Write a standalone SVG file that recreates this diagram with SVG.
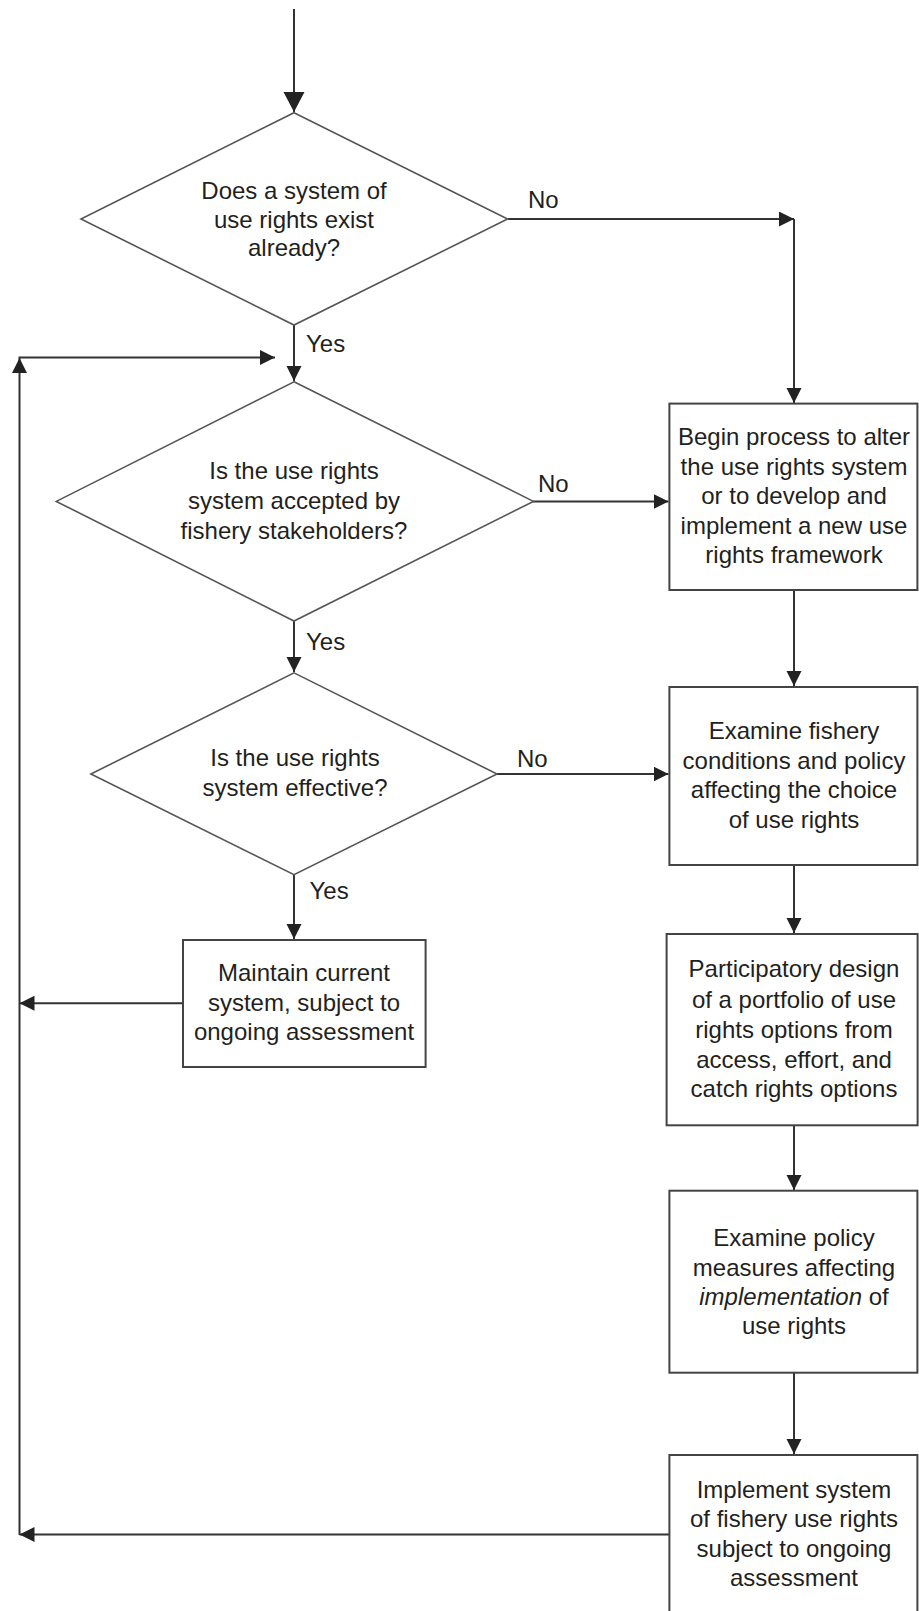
<svg xmlns="http://www.w3.org/2000/svg" width="919" height="1611" viewBox="0 0 919 1611">
<style>
text{font-family:"Liberation Sans",Arial,sans-serif;font-size:24px;fill:#231f20}
.c{text-anchor:middle}
.box{fill:#fff;stroke:#444;stroke-width:2}
.dia{fill:#fff;stroke:#555;stroke-width:1.6}
.ln{fill:none;stroke:#333;stroke-width:2;marker-end:url(#ah)}
.lb{fill:none;stroke:#333;stroke-width:2;marker-end:url(#ahb)}
</style>
<defs>
<marker id="ah" markerUnits="userSpaceOnUse" markerWidth="16" markerHeight="16" refX="15" refY="7.5" orient="auto"><path d="M0,0 L15,7.5 L0,15 z" fill="#222"/></marker>
<marker id="ahb" markerUnits="userSpaceOnUse" markerWidth="22" markerHeight="22" refX="20" refY="10.5" orient="auto"><path d="M0,0 L20,10.5 L0,21 z" fill="#222"/></marker>
</defs>
<g id="connectors">
<path class="lb" d="M294,9 L294,112"/>
<path class="ln" d="M508,219 L794,219"/>
<path class="ln" d="M794,219 L794,403"/>
<path class="ln" d="M294,325 L294,381"/>
<path class="ln" d="M19.5,1535 L19.5,358"/>
<path class="ln" d="M18.5,357.5 L275,357.5"/>
<path class="ln" d="M533,501.4 L668.5,501.4"/>
<path class="ln" d="M794,590 L794,686"/>
<path class="ln" d="M294,621 L294,672"/>
<path class="ln" d="M497,774 L668.5,774"/>
<path class="ln" d="M794,865 L794,933"/>
<path class="ln" d="M294,874.5 L294,939"/>
<path class="ln" d="M183,1003.3 L19.5,1003.3"/>
<path class="ln" d="M794,1125.3 L794,1190"/>
<path class="ln" d="M794,1372.7 L794,1454"/>
<path class="ln" d="M669.4,1534.5 L19.5,1534.5"/>
<text x="528" y="207.5">No</text>
<text x="306" y="351.5">Yes</text>
<text x="538" y="492">No</text>
<text x="306" y="649.5">Yes</text>
<text x="517" y="766.5">No</text>
<text x="309.5" y="899">Yes</text>
</g>
<g id="d1">
<polygon class="dia" points="294,112.7 507.6,219 294,325 81,219"/>
<text class="c"><tspan x="294" y="199">Does a system of</tspan><tspan x="294" y="227.5">use rights exist</tspan><tspan x="294" y="256">already?</tspan></text>
</g>
<g id="d2">
<polygon class="dia" points="294,381.8 533.4,501.4 294,621 56.3,501.4"/>
<text class="c"><tspan x="294" y="479">Is the use rights</tspan><tspan x="294" y="509">system accepted by</tspan><tspan x="294" y="539">fishery stakeholders?</tspan></text>
</g>
<g id="d3">
<polygon class="dia" points="294,672.9 497,774 294,874.6 90.9,774"/>
<text class="c"><tspan x="295" y="766">Is the use rights</tspan><tspan x="295" y="795.5">system effective?</tspan></text>
</g>
<g id="b1">
<rect class="box" x="669.4" y="403.6" width="248" height="186.4"/>
<text class="c"><tspan x="794" y="445">Begin process to alter</tspan><tspan x="794" y="474.5">the use rights system</tspan><tspan x="794" y="504">or to develop and</tspan><tspan x="794" y="533.5">implement a new use</tspan><tspan x="794" y="563">rights framework</tspan></text>
</g>
<g id="b2">
<rect class="box" x="669.4" y="687" width="248" height="178"/>
<text class="c"><tspan x="794" y="739">Examine fishery</tspan><tspan x="794" y="768.7">conditions and policy</tspan><tspan x="794" y="798.3">affecting the choice</tspan><tspan x="794" y="828">of use rights</tspan></text>
</g>
<g id="maintain">
<rect class="box" x="183" y="940" width="242.6" height="127"/>
<text class="c"><tspan x="304" y="981">Maintain current</tspan><tspan x="304" y="1010.5">system, subject to</tspan><tspan x="304" y="1040">ongoing assessment</tspan></text>
</g>
<g id="b3">
<rect class="box" x="666.6" y="934" width="251" height="191.3"/>
<text class="c"><tspan x="794" y="977">Participatory design</tspan><tspan x="794" y="1008">of a portfolio of use</tspan><tspan x="794" y="1038">rights options from</tspan><tspan x="794" y="1068">access, effort, and</tspan><tspan x="794" y="1096.5">catch rights options</tspan></text>
</g>
<g id="b4">
<rect class="box" x="669.4" y="1190.7" width="248" height="182"/>
<text class="c"><tspan x="794" y="1245.5">Examine policy</tspan><tspan x="794" y="1276">measures affecting</tspan><tspan x="794" y="1305"><tspan font-style="italic">implementation</tspan> of</tspan><tspan x="794" y="1334">use rights</tspan></text>
</g>
<g id="b5">
<rect class="box" x="669.4" y="1455" width="248" height="175"/>
<text class="c"><tspan x="794" y="1497.5">Implement system</tspan><tspan x="794" y="1527">of fishery use rights</tspan><tspan x="794" y="1557">subject to ongoing</tspan><tspan x="794" y="1586">assessment</tspan></text>
</g>
</svg>
